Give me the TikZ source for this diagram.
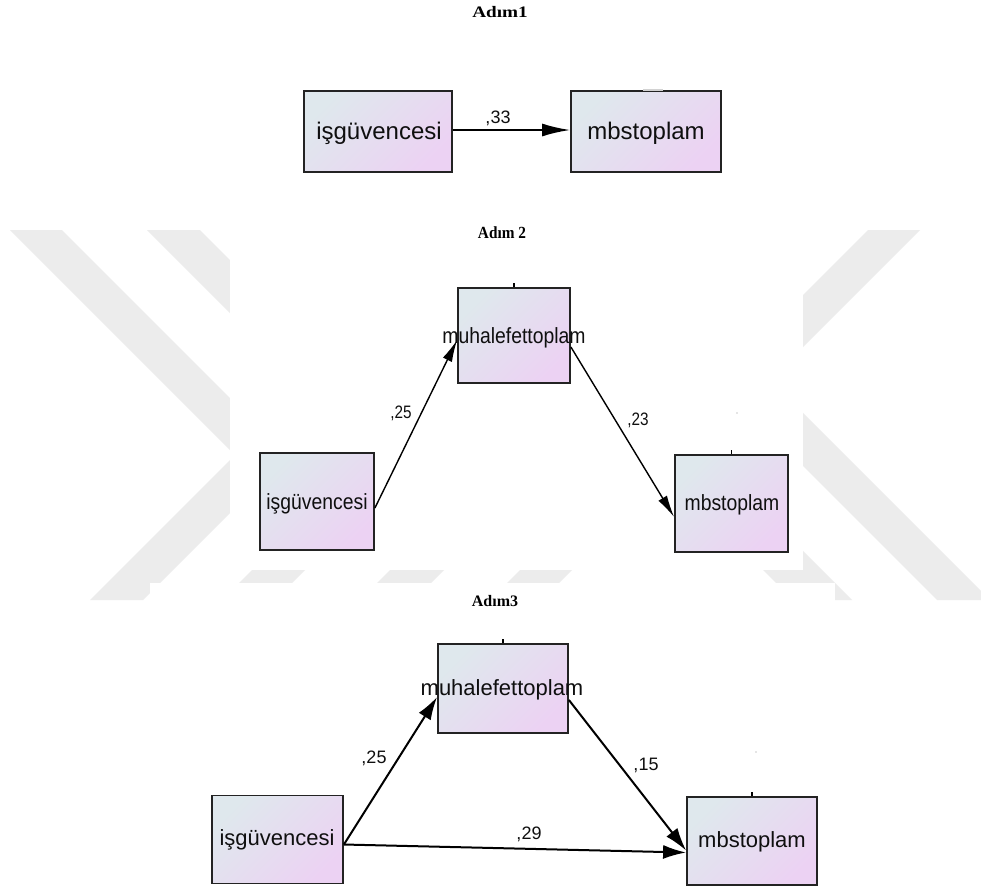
\documentclass[tikz,border=0pt]{standalone}
\usepackage{fontspec}
\setmainfont{Liberation Serif}
\newfontfamily\arialf{Liberation Sans}
\usetikzlibrary{arrows.meta,calc}
\definecolor{boxA}{RGB}{223,232,237}
\definecolor{boxB}{RGB}{236,210,243}
\definecolor{wm}{RGB}{236,236,236}
\definecolor{edgec}{RGB}{35,35,35}
\definecolor{txtc}{RGB}{15,15,15}
\begin{document}
\begin{tikzpicture}[x=1pt,y=-1pt,
  box/.style={draw=edgec, line width=1.8pt, top color=boxA, bottom color=boxB, shading angle=45, inner sep=0pt},
  lbl/.style={font=\arialf\fontsize{#1}{#1}\selectfont, inner sep=0pt, text=txtc},
  ttl/.style={font=\bfseries\fontsize{#1}{#1}\selectfont, inner sep=0pt, text=black},
  arrA/.style={line width=2pt, draw=black, -{Latex[length=28pt,width=13pt]}},
  arrB/.style={line width=1.4pt, draw=black, -{Latex[length=22pt,width=10pt]}},
  arrC/.style={line width=2pt, draw=black, -{Latex[length=23pt,width=14pt]}},
  tick/.style={line width=1.6pt, draw=black}
]
\useasboundingbox (0,0) rectangle (981,886);
\fill[white] (0,0) rectangle (981,886);
% watermark
\begin{scope}
\clip (0,0) rectangle (981,886);
\fill[wm] (10,230) -- (62,230) -- (287.5,455.5) -- (143,600) -- (90,600) -- (235,455) -- cycle;
\fill[wm] (147,230) -- (200,230) -- (422.5,452.5) -- (275,600) -- (222,600) -- (369.5,452.5) -- cycle;
\fill[wm] (420,540) -- (474,540) -- (414,600) -- (360,600) -- cycle;
\fill[wm] (550,540) -- (602,540) -- (542,600) -- (490,600) -- cycle;
\fill[wm] (733,540) -- (792,540) -- (852,600) -- (793,600) -- cycle;
\fill[wm] (868,230) -- (920,230) -- (770,380) -- (990,600) -- (937,600) -- (717.5,380.5) -- cycle;
\end{scope}
\fill[white] (230,190) rectangle (803,570);
\fill[white] (150,583) rectangle (835,886);

% ---------- Adim 1
\node[ttl=16] (t1) at (500,12) {\scalebox{1.2}[1]{Adım1}};
\node[box, minimum width=148pt, minimum height=81pt] (i1) at (378,131.5) {};
\node[box, minimum width=150pt, minimum height=81pt] (m1) at (646,131.5) {};
\draw[gray!35, line width=1.8pt] ($(m1.north)+(-3,0)$) -- ($(m1.north)+(17,0)$);
\node[lbl=24] (ti1) at (379,133) {işgüvencesi};
\node[lbl=24] (tm1) at (646,133) {mbstoplam};
\draw[arrA] ([yshift=1.5pt]i1.east) -- ([yshift=1.5pt]m1.west);
\node[lbl=18] (n33) at (498,118) {,33};

% ---------- Adim 2
\node[ttl=17] (t2) at (502,233) {\scalebox{0.9}[1]{Adım 2}};
\node[box, minimum width=112pt, minimum height=95pt] (u2) at (514,335.5) {};
\node[box, minimum width=114pt, minimum height=97pt] (i2) at (317,501.5) {};
\node[box, minimum width=113pt, minimum height=97pt] (b2) at (731.5,503.5) {};
\draw[tick] (u2.north) -- ++(0,-4);
\draw[tick] (b2.north) -- ++(0,-4);
\fill[gray!40] (737,413) circle (0.8);
\draw[arrB] ([yshift=-6.5pt]i2.east) -- ([yshift=-4.5pt]u2.west);
\draw[arrB] ([yshift=-11.5pt]u2.east) -- ([yshift=-13.5pt]b2.west);
\node[lbl=22] (tu2) at (514,338) {\scalebox{0.88}[1]{muhalefettoplam}};
\node[lbl=22] (ti2) at (317,504) {\scalebox{0.88}[1]{işgüvencesi}};
\node[lbl=22] (tb2) at (732,505) {\scalebox{0.88}[1]{mbstoplam}};
\node[lbl=18] (n25a) at (401,413) {\scalebox{0.85}[1]{,25}};
\node[lbl=18] (n23) at (638,420) {\scalebox{0.85}[1]{,23}};

% ---------- Adim 3
\node[ttl=16] (t3) at (495,601) {Adım3};
\node[box, minimum width=130pt, minimum height=89pt] (u3) at (503,688.5) {};
\node[box, minimum width=131pt, minimum height=88pt] (i3) at (277.5,839.5) {};
\node[box, minimum width=130pt, minimum height=88pt] (b3) at (752,841) {};
\draw[tick] (u3.north) -- ++(0,-4);
\draw[tick] (b3.north) -- ++(0,-4);
\fill[gray!40] (756,752) circle (0.8);
\draw[arrC] ([yshift=-5pt]i3.east) -- ([yshift=-8.5pt]u3.west);
\draw[arrC] ([yshift=-11.5pt]u3.east) -- ([yshift=-9.5pt]b3.west);
\draw[arrC] ([yshift=-5pt]i3.east) -- ([yshift=-11.5pt]b3.west);
\node[lbl=22] (tu3) at (502,690) {muhalefettoplam};
\node[lbl=22] (ti3) at (277,840) {işgüvencesi};
\node[lbl=22] (tb3) at (752,842) {mbstoplam};
\node[lbl=18] (n25b) at (374,758) {,25};
\node[lbl=18] (n15) at (646,765) {,15};
\node[lbl=18] (n29) at (529,834) {,29};
\end{tikzpicture}
\end{document}
